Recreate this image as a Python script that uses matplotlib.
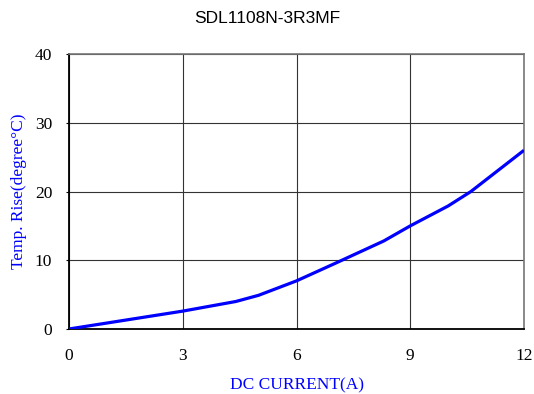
import matplotlib
matplotlib.use("Agg")
import matplotlib.pyplot as plt

# DC current (A) vs temperature rise (deg C)
current = [0, 3, 4.4, 5, 6, 7, 8.3, 9, 10, 10.6, 12]
temp_rise = [0, 2.6, 4.0, 4.9, 7.0, 9.5, 12.8, 15.0, 17.9, 20.0, 26.0]

x_ticks = [0, 3, 6, 9, 12]
y_ticks = [0, 10, 20, 30, 40]

fig = plt.figure(figsize=(5.34, 3.94), dpi=100)
ax = fig.add_axes([0.1292, 0.1650, 0.8521, 0.6979])

ax.plot(current, temp_rise, color="#0000ff", linewidth=2.3, solid_capstyle="butt", zorder=3)

ax.set_xlim(0, 12)
ax.set_ylim(0, 40)
ax.set_xticks(x_ticks)
ax.set_yticks(y_ticks)
ax.grid(True, color="#333333", linewidth=0.8)

serif = ["Liberation Serif", "DejaVu Serif"]
for lab in ax.get_xticklabels() + ax.get_yticklabels():
    lab.set_family(serif)
    lab.set_fontsize(12.5)
ax.tick_params(axis="x", length=0, pad=14)
ax.tick_params(axis="y", length=2, pad=10)

for side in ["top", "right"]:
    ax.spines[side].set_color("#777777")
    ax.spines[side].set_linewidth(1.2)
for side in ["left", "bottom"]:
    ax.spines[side].set_color("black")
    ax.spines[side].set_linewidth(1.3)

ax.set_xlabel("DC CURRENT(A)", family=serif, fontsize=12.5, color="#0000ff", labelpad=9)
ax.set_ylabel("Temp. Rise(degree\u00b0C)", family=serif, fontsize=12.5, color="#0000ff", labelpad=6)
fig.text(0.5, 0.952, "SDL1108N-3R3MF", ha="center", va="center",
         family=["Liberation Sans", "DejaVu Sans"], fontsize=12.5)

fig.savefig("out.png", dpi=100)
